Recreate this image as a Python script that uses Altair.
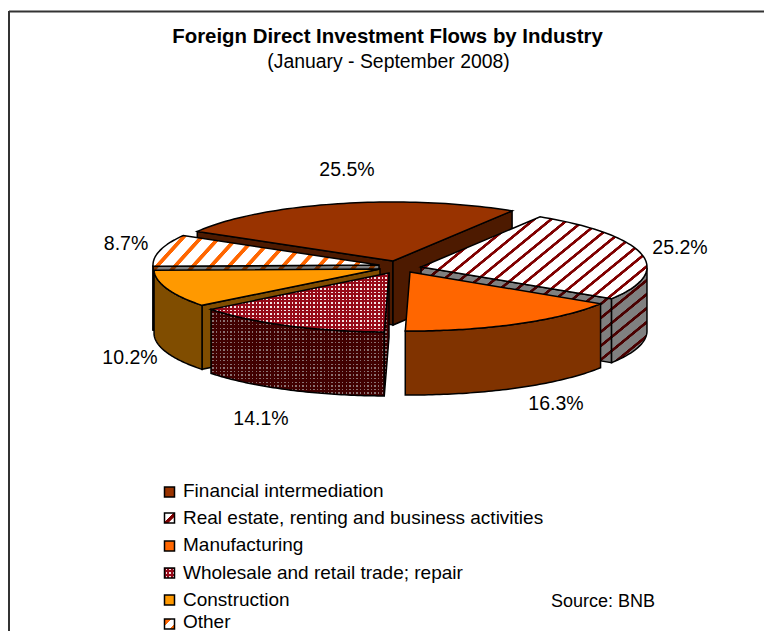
import math
import altair as alt
import pandas as pd

# ---- values ----
categories = ["Financial intermediation", "Real estate, renting and business activities",
              "Manufacturing", "Wholesale and retail trade; repair", "Construction", "Other"]
shares = [25.5, 25.2, 16.3, 14.1, 10.2, 8.7]
title_text = "Foreign Direct Investment Flows by Industry"
subtitle_text = "(January - September 2008)"
source_text = "Source: BNB"

# ---- layout (page pixels) ----
W, H = 756, 623
RX, RY, DEPTH = 226, 59, 64
START = 150.0
apex = [(393, 261), (421, 267), (410, 272), (389, 273), (380, 269), (379, 265)]
label_xy = [(347, 170), (680, 248), (556, 404), (261, 419), (130, 358), (126, 244)]
draw_order = [0, 5, 1, 4, 3, 2]
legend_y = [492, 518, 546, 573, 600, 624]
legend_text_y = [491, 518, 545, 573, 600, 622]

sx = alt.Scale(domain=[8, 8 + W], range=[0, W], nice=False, zero=False)
sy = alt.Scale(domain=[8, 8 + H], range=[0, H], nice=False, zero=False)
X = alt.X("x:Q", scale=sx, axis=None)
Y = alt.Y("y:Q", scale=sy, axis=None)


def bbox(pts):
    xs = [p[0] for p in pts]
    ys = [p[1] for p in pts]
    return min(xs), max(xs), min(ys), max(ys)


def stripes(pts, dark, light, s, p, duty, ramp=0.8):
    xmin, xmax, ymin, ymax = bbox(pts)
    w, h = xmax - xmin, ymax - ymin
    k = (s * w + h) / (s * s * w * w + h * h)
    fmax = s * w + h
    f0 = s * xmin + ymin
    P = s * p
    r = ramp * s
    stops = []

    def add(f, c):
        t = min(1.0, max(0.0, (f - f0) / fmax))
        stops.append({"offset": round(t, 5), "color": c})

    n0 = math.floor(f0 / P) - 1
    n1 = math.ceil((f0 + fmax) / P) + 1
    for n in range(n0, n1 + 1):
        a = n * P
        b = (n + duty) * P
        add(a, light)
        add(a + r, dark)
        add(b - r, dark)
        add(b, light)
    return {"gradient": "linear", "x1": 0, "y1": 0, "x2": k * s * w, "y2": k * h, "stops": stops}


def bars(pts, rgb, p, gap, axis):
    xmin, xmax, ymin, ymax = bbox(pts)
    lo, hi = (xmin, xmax) if axis == "x" else (ymin, ymax)
    span = hi - lo
    on = "rgba(%d,%d,%d,1)" % rgb
    off = "rgba(%d,%d,%d,0)" % rgb
    stops = []

    def add(f, c):
        stops.append({"offset": round(min(1.0, max(0.0, (f - lo) / span)), 5), "color": c})

    for n in range(math.floor(lo / p) - 1, math.ceil(hi / p) + 2):
        a = n * p
        add(a, off)
        add(a + gap, off)
        add(a + gap, on)
        add(a + p, on)
    g = {"gradient": "linear", "stops": stops, "x1": 0, "y1": 0, "x2": 0, "y2": 0}
    g["x2" if axis == "x" else "y2"] = 1
    return g


def poly(pts, fill, stroke="black", sw=1.5):
    df = pd.DataFrame({"x": [p[0] for p in pts], "y": [p[1] for p in pts], "i": range(len(pts))})
    return alt.Chart(df).mark_line(interpolate="linear-closed", fill=fill, stroke=stroke,
                                   strokeWidth=sw).encode(x=X, y=Y, order="i:Q")


def paint(pts, style, part, sw=1.5):
    """Return the layers that fill one polygon in the style of a slice."""
    if style == "real":
        dark, light = ("#800000", "#ffffff") if part == "top" else ("#4a0000", "#808080")
        return [poly(pts, stripes(pts, dark, light, 0.82, 17, 0.3), sw=sw)]
    if style == "other":
        dark, light = ("#ff6600", "#ffffff") if part == "top" else ("#7f3300", "#808080")
        return [poly(pts, stripes(pts, dark, light, 1.1, 18, 0.33), sw=sw)]
    if style == "dots":
        rgb, base = ((150, 10, 25), "#f4e4e4") if part == "top" else ((64, 0, 0), "#8a7272")
        gap = 1.6 if part == "top" else 1.4
        return [poly(pts, base, stroke="transparent", sw=0),
                poly(pts, bars(pts, rgb, 3.6, gap, "x"), stroke="transparent", sw=0),
                poly(pts, bars(pts, rgb, 3.6, gap, "y"), sw=sw)]
    top, side = style
    return [poly(pts, top if part == "top" else side, sw=sw)]


styles = [("#993300", "#4d1a00"), "real", ("#ff6600", "#803300"), "dots", ("#ff9900", "#804d00"), "other"]


def rim(c, t):
    r = math.radians(t)
    return (c[0] + RX * math.cos(r), c[1] - RY * math.sin(r))


def down(p):
    return (p[0], p[1] + DEPTH)


# ---- slice geometry derived from the shares ----
total = sum(shares)
angles = []
a = START
for v in shares:
    b = a - v / total * 360
    angles.append((a, b))
    a = b

layers = []
# frame
layers.append(alt.Chart(pd.DataFrame({"x": [9, 8 + W], "y": [11.5, 11.5]})).mark_line(
    stroke="#333333", strokeWidth=2).encode(x=X, y=Y))
layers.append(alt.Chart(pd.DataFrame({"x": [9, 9], "y": [11, 8 + H]})).mark_line(
    stroke="#333333", strokeWidth=2).encode(x=X, y=Y))

for i in draw_order:
    a0, a1 = angles[i]
    c = apex[i]
    st = styles[i]
    # visible cut faces
    if math.cos(math.radians(a0)) < 0:
        e = rim(c, a0)
        layers += paint([c, e, down(e), down(c)], st, "side")
    if math.cos(math.radians(a1)) > 0:
        e = rim(c, a1)
        layers += paint([c, e, down(e), down(c)], st, "side")
    # outer wall (front half of the rim only)
    front = []
    n = 60
    for j in range(n + 1):
        t = a0 + (a1 - a0) * j / n
        if math.sin(math.radians(t)) <= 1e-9:
            front.append(rim(c, t))
    if len(front) > 1:
        layers += paint(front + [down(p) for p in reversed(front)], st, "side")
    # top
    arc = [rim(c, a0 + (a1 - a0) * j / n) for j in range(n + 1)]
    layers += paint([c] + arc, st, "top")

# legend swatches
for i, y in enumerate(legend_y):
    sq = [(164.5, y - 5), (174.5, y - 5), (174.5, y + 5), (164.5, y + 5)]
    st = styles[i]
    if st == "real":
        layers.append(poly(sq, stripes(sq, "#800000", "#ffffff", 1.0, 14, 0.4), sw=1.5))
    elif st == "other":
        layers.append(poly(sq, stripes(sq, "#ff6600", "#ffffff", 1.0, 14, 0.5), sw=1.5))
    else:
        layers += paint(sq, st, "top")


def text(rows, size, weight="normal", align="center"):
    df = pd.DataFrame(rows, columns=["x", "y", "t"])
    return alt.Chart(df).mark_text(font="Liberation Sans", fontSize=size, fontWeight=weight,
                                   align=align, baseline="middle", color="black").encode(
        x=X, y=Y, text="t:N")


layers.append(text([(387.5, 37, title_text)], 20.4, "bold"))
layers.append(text([(388.5, 62, subtitle_text)], 19.4))
layers.append(text([(xy[0], xy[1], "%.1f%%" % v) for xy, v in zip(label_xy, shares)], 19.5))
layers.append(text([(183, y, cat) for y, cat in zip(legend_text_y, categories)], 19, align="left"))
layers.append(text([(551, 602, source_text)], 18, align="left"))

chart = alt.layer(*layers).properties(
    width=W, height=H, padding=0, autosize=alt.AutoSizeParams(type="none")
).configure_view(stroke=None)

chart.save("out.html", embed_options={"renderer": "svg", "actions": False})
